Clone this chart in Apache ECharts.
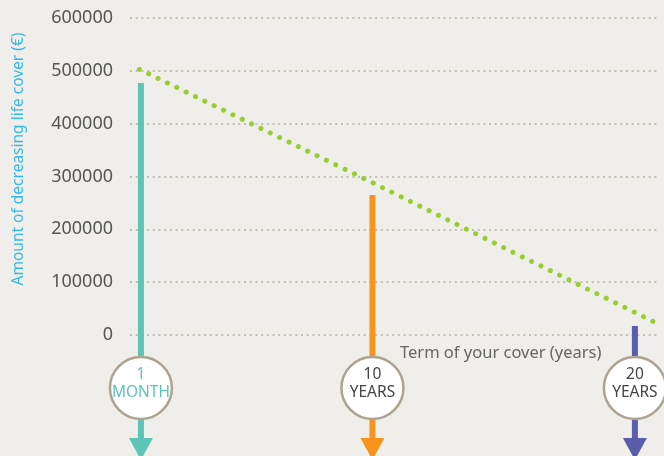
<!DOCTYPE html>
<html>
<head>
<meta charset="utf-8">
<script src="https://cdn.jsdelivr.net/npm/echarts@6/dist/echarts.min.js"></script>
<style>
html,body{margin:0;padding:0;background:#f0eeea;}
#chart{width:664px;height:456px;}
</style>
</head>
<body>
<div id="chart"></div>
<script>
// y axis ticks
const yTicks = [0, 100000, 200000, 300000, 400000, 500000, 600000];
// decreasing cover line: [position (years), amount]
const coverX = [0, 10, 22.18];
const coverY = [503000, 289000, 24000];
// term markers
const markerLabels = [['1', 'MONTH'], ['10', 'YEARS'], ['20', 'YEARS']];
const markerPos = [0.07, 10.03, 21.32];
const markerValues = [477000, 265000, 17000];
const markerColors = ['#5ec4b6', '#f7941d', '#5a5eaa'];
const markerTextColors = ['#5ec4b6', '#454545', '#454545'];
const yTitle = 'Amount of decreasing life cover (€)';
const xTitle = 'Term of your cover (years)';

const chart = echarts.init(document.getElementById('chart'));
const font = 'Noto Sans';

const lineData = coverX.map((x, i) => [x, coverY[i]]);
const markerData = markerPos.map((x, i) => [x, markerValues[i], i]);

chart.setOption({
  backgroundColor: '#f0eeea',
  animation: false,
  grid: {left: 130, right: 4, top: 18, bottom: 121, outerBoundsMode: 'none', containLabel: false},
  xAxis: {
    type: 'value', min: -0.4, max: 22.4,
    show: false
  },
  yAxis: {
    type: 'value', min: yTicks[0], max: yTicks[yTicks.length - 1], interval: 100000,
    axisLine: {show: false}, axisTick: {show: false},
    axisLabel: {color: '#555', fontSize: 18, fontFamily: font, margin: 17,
      formatter: v => String(v)},
    splitLine: {show: true, lineStyle: {color: '#c7beb0', width: 2, type: [2, 3.7]}}
  },
  graphic: [{
    type: 'text', x: 400, y: 353,
    style: {text: xTitle, fill: '#666', fontSize: 16.5, fontFamily: font, verticalAlign: 'middle'}
  }, {
    type: 'text', x: 19, y: 159, rotation: Math.PI / 2,
    style: {text: yTitle, fill: '#35b9e6', fontSize: 15.5, fontFamily: font,
      align: 'center', verticalAlign: 'middle'}
  }],
  series: [{
    type: 'line',
    data: lineData,
    showSymbol: false,
    z: 3,
    lineStyle: {color: '#9acd32', width: 5, type: [0.1, 10.3], cap: 'round'}
  }, {
    type: 'custom',
    clip: false,
    z: 4,
    data: markerData,
    renderItem: function (params, api) {
      const i = api.value(2);
      const top = api.coord([api.value(0), api.value(1)]);
      const base = api.coord([api.value(0), 0]);
      const x = top[0];
      const color = markerColors[i];
      const cy = base[1] + 53;
      const arrowTop = base[1] + 103;
      return {
        type: 'group',
        children: [{
          type: 'rect',
          shape: {x: x - 3, y: top[1], width: 6, height: arrowTop - top[1] + 1},
          style: {fill: color}
        }, {
          type: 'circle',
          shape: {cx: x, cy: cy, r: 31},
          style: {fill: '#ffffff', stroke: '#ada390', lineWidth: 2.5}
        }, {
          type: 'text',
          style: {
            x: x, y: cy - 4, text: markerLabels[i][0] + '\n' + markerLabels[i][1],
            align: 'center', verticalAlign: 'middle',
            fill: markerTextColors[i], fontSize: 15.5, fontFamily: font, lineHeight: 18
          }
        }, {
          type: 'polygon',
          shape: {points: [[x - 12, arrowTop], [x + 12, arrowTop], [x, arrowTop + 22]]},
          style: {fill: color}
        }]
      };
    }
  }]
});
</script>
</body>
</html>
